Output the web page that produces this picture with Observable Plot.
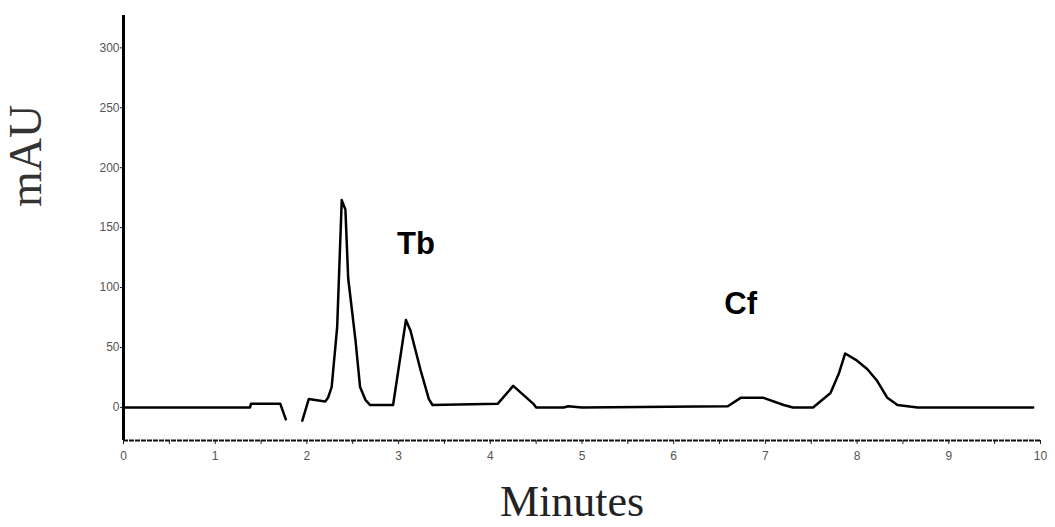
<!DOCTYPE html>
<html>
<head>
<meta charset="utf-8">
<script src="https://cdn.jsdelivr.net/npm/d3@7"></script>
<script src="https://cdn.jsdelivr.net/npm/@observablehq/plot@0.6"></script>
<style>
  html, body { margin: 0; padding: 0; background: #fff; }
  #chart svg { display: block; }
</style>
</head>
<body>
<div id="chart"></div>
<script>
// Chromatogram trace (time in minutes, absorbance in mAU); null = break in trace
const minutes = [0, 1.38, 1.39, 1.71, 1.77, 1.86, 1.95, 2.02, 2.20, 2.23, 2.27, 2.33, 2.38, 2.42, 2.45, 2.53, 2.58, 2.64, 2.69,
  2.94, 3.08, 3.13, 3.24, 3.33, 3.37,
  4.08, 4.25, 4.47, 4.50, 4.80, 4.85, 5.00,
  6.59, 6.73, 6.98, 7.20, 7.30, 7.52, 7.71, 7.80, 7.87, 8.00, 8.11, 8.22, 8.33, 8.44, 8.66, 9.92];
const mAU = [0, 0, 3, 3, -10, null, -11, 7, 5, 8, 17, 67, 173, 165, 108, 56, 17, 6, 2,
  2, 73, 64, 31, 7, 2,
  3, 18, 3, 0, 0, 1, 0,
  1, 8, 8, 2, 0, 0, 12, 28, 45, 39, 32, 22, 8, 2, 0, 0];

const xTicks = [0, 1, 2, 3, 4, 5, 6, 7, 8, 9, 10];
const xMinorTicks = [0, 0.5, 1, 1.5, 2, 2.5, 3, 3.5, 4, 4.5, 5, 5.5, 6, 6.5, 7, 7.5, 8, 8.5, 9, 9.5, 10];
const yTicks = [0, 50, 100, 150, 200, 250, 300];

const peakNames = ["Tb", "Cf"];
const peakLabelMinutes = [3.19, 6.73];
const peakLabelMAU = [136, 86];

const xTitle = "Minutes";
const yTitle = "mAU";
const yMin = -27.6, yMax = 327;

const trace = minutes.map((t, i) => ({t, v: mAU[i]}));
const peaks = peakNames.map((name, i) => ({name, t: peakLabelMinutes[i], v: peakLabelMAU[i]}));

const chart = Plot.plot({
  width: 1055,
  height: 527,
  marginLeft: 123,
  marginRight: 15,
  marginTop: 15,
  marginBottom: 87,
  x: {domain: [0, 10]},
  y: {domain: [yMin, yMax]},
  style: {background: "#fff", fontFamily: "Liberation Sans, Arial, sans-serif"},
  marks: [
    Plot.axisX({ticks: xMinorTicks, tickSize: 4, tickFormat: () => "", label: null, stroke: "#222"}),
    Plot.axisX({ticks: xTicks, tickSize: 0, tickPadding: 11, fontSize: 12, fill: "#555", label: null}),
    Plot.axisY({ticks: yTicks, tickSize: 3, tickPadding: 1, fontSize: 12, fill: "#555", stroke: "#222", label: null}),
    Plot.ruleY([yMin], {stroke: "#111", strokeWidth: 2, strokeDasharray: "5,1"}),
    Plot.ruleX([0], {stroke: "#000", strokeWidth: 3}),
    Plot.line(trace, {x: "t", y: "v", stroke: "#000", strokeWidth: 2.5, strokeLinejoin: "round"}),
    Plot.text(peaks, {x: "t", y: "v", text: "name", fontSize: 31, fontWeight: "bold",
      fontFamily: "Liberation Sans, Arial, sans-serif", fill: "#000", lineAnchor: "middle"}),
    Plot.text([xTitle], {frameAnchor: "bottom", dx: -10, dy: 61, lineAnchor: "middle",
      fontSize: 44, fontFamily: "Liberation Serif, Times New Roman, serif", fill: "#222"}),
    Plot.text([yTitle], {frameAnchor: "left", dx: -97, dy: -21, rotate: -90, lineAnchor: "middle",
      fontSize: 46, fontFamily: "Liberation Serif, Times New Roman, serif", fill: "#333"})
  ]
});
document.getElementById("chart").appendChild(chart);
</script>
</body>
</html>
